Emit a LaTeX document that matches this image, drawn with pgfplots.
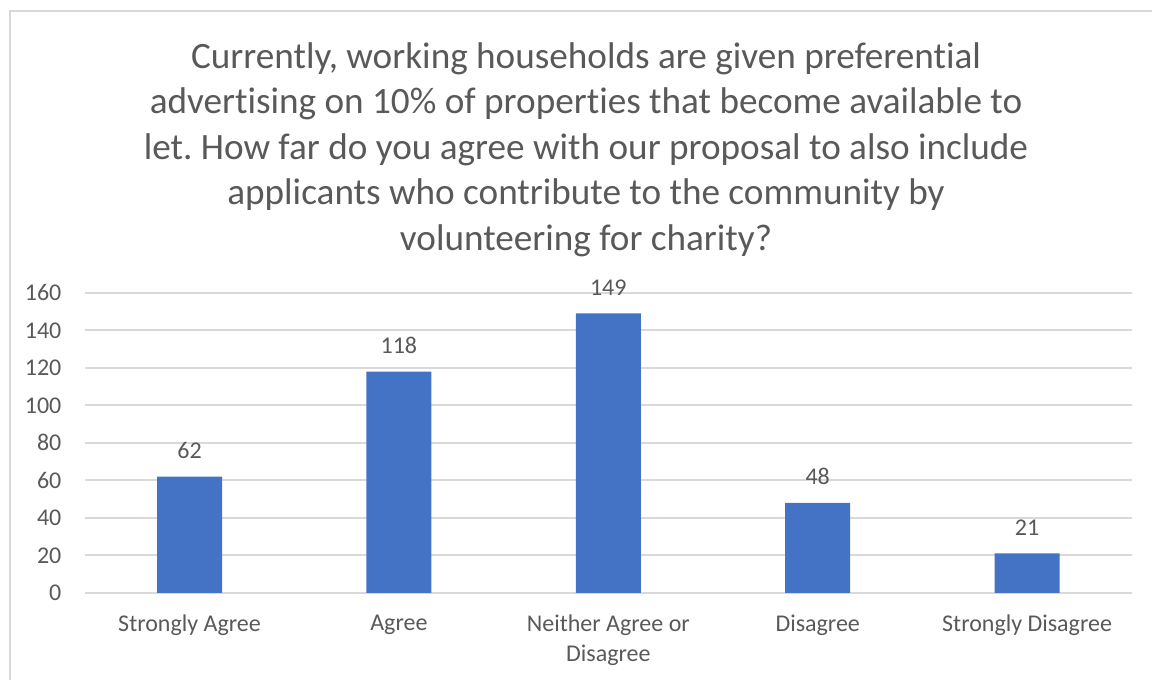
\documentclass[border=0pt]{standalone}
\usepackage{fontspec}
\setmainfont[Ligatures=NoCommon]{Carlito}
\usepackage{pgfplots}
\pgfplotsset{compat=1.18}
\definecolor{txt}{HTML}{595959}
\definecolor{grd}{HTML}{D9D9D9}
\definecolor{bar}{HTML}{4472C4}
\frenchspacing
\begin{document}
\begin{tikzpicture}[x=1pt,y=1pt]
\useasboundingbox (0,0) rectangle (576,340);
\clip (0,0) rectangle (576,340);
\draw[grd, line width=1pt] (5,-10) -- (5,334.5) -- (600,334.5);
\node[text=txt, align=center, font=\fontsize{18.6}{22.75}\selectfont, anchor=center] at (293,265.3)
  {Currently, working households are given preferential\\
   advertising on 10\% of properties that become available to\\
   let. How far do you agree with our proposal to also include\\
   applicants who contribute to the community by\\
   volunteering for charity?};
\begin{axis}[
  at={(40.5,46.5)}, anchor=south west,
  scale only axis, width=523.5pt, height=150pt,
  xmin=-0.5, xmax=4.5, ymin=0, ymax=160,
  ytick={0,20,...,160},
  xtick={0,1,2,3,4},
  xticklabels={Strongly Agree, Agree, {Neither Agree or\\Disagree}, Disagree, Strongly Disagree},
  axis line style={draw=none},
  major tick length=0pt,
  ymajorgrids, grid style={grd, line width=1pt},
  tick label style={text=txt, font=\fontsize{12}{15}\selectfont},
  /pgf/number format/assume math mode=true,
  yticklabel style={anchor=east, inner sep=0pt, xshift=-11.5pt},
  xticklabel style={anchor=north, inner sep=0pt, yshift=-11pt, align=center},
  ybar, bar width=32.5pt,
  nodes near coords,
  every node near coord/.append style={text=txt, font=\fontsize{12}{14}\selectfont, anchor=south, yshift=5.5pt},
  clip=false,
]
\addplot[fill=bar, draw=none] coordinates {(0,62) (1,118) (2,149) (3,48) (4,21)};
\end{axis}
\end{tikzpicture}
\end{document}
